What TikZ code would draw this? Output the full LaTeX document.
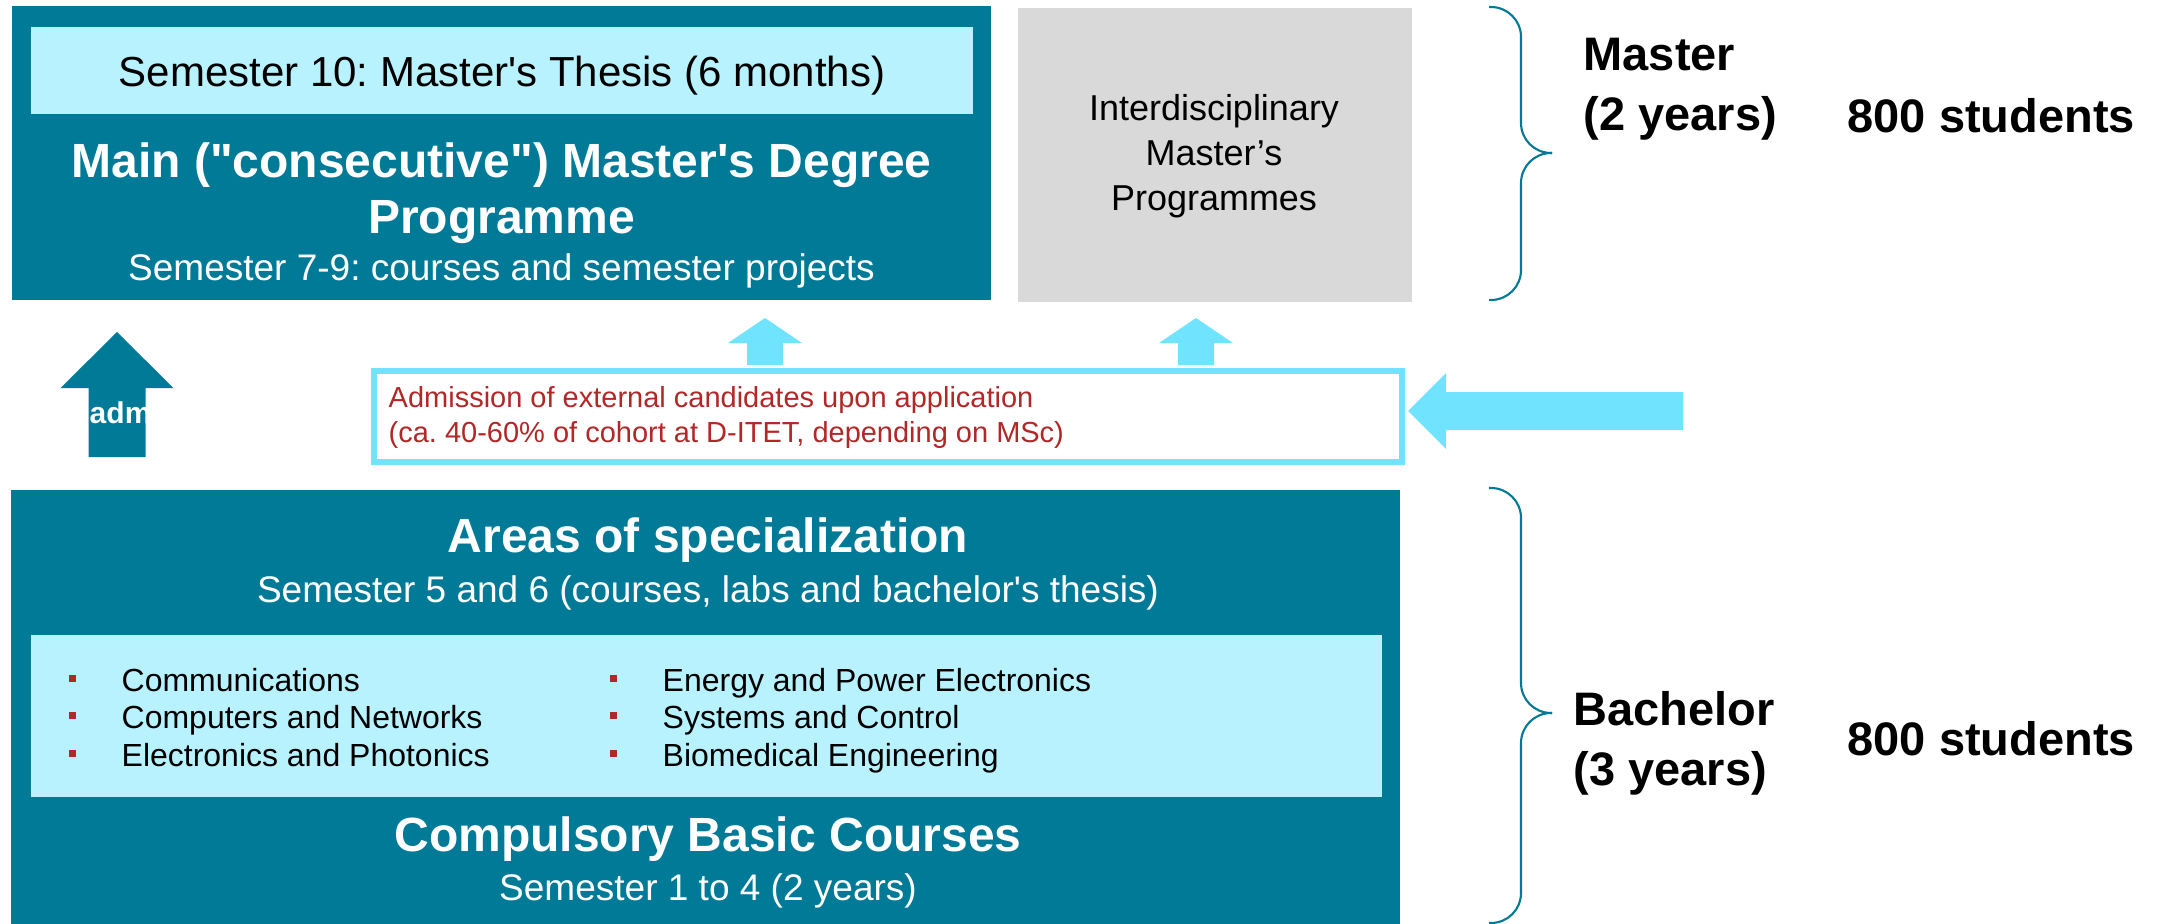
\documentclass[tikz,border=0pt]{standalone}
\usepackage{fontspec}
\setmainfont{Liberation Sans}
\usepackage{tikz}
\frenchspacing

\definecolor{ethteal}{RGB}{0,122,150}
\definecolor{lightcyan}{RGB}{183,242,254}
\definecolor{arrowcyan}{RGB}{112,227,255}
\definecolor{boxgrey}{RGB}{217,217,217}
\definecolor{darkred}{RGB}{178,40,40}

\tikzset{
    tealbox/.style={fill=ethteal, inner sep=0pt, outer sep=0pt, anchor=north west},
    lightbox/.style={fill=lightcyan, inner sep=0pt, outer sep=0pt, anchor=north west},
    bigtitle/.style={text=white, align=center, font=\fontsize{13.66}{15.93}\selectfont\bfseries},
    subtitle/.style={text=white, font=\fontsize{10.53}{12.6}\selectfont},
    spec/.style={anchor=base west, inner sep=0pt, font=\fontsize{9.1}{11}\selectfont},
    bulletsq/.style={fill=darkred, minimum size=0.07cm, inner sep=0pt},
    degree/.style={anchor=west, align=left, inner sep=0pt, font=\fontsize{13.37}{17.07}\selectfont\bfseries},
    bracepath/.style={draw=ethteal, line width=0.6pt, rounded corners=0.3cm},
}

\begin{document}
\begin{tikzpicture}
    \useasboundingbox (0,0) rectangle (21.65,-9.24);

    % master part
    \node[tealbox, minimum width=9.79cm, minimum height=2.94cm] (master) at (0.12,-0.06) {};
    \node[lightbox, minimum width=9.42cm, minimum height=0.87cm] (thesis) at (0.31,-0.27) {};
    \node[font=\fontsize{11.95}{14}\selectfont] (thesistext) at (5.02,-0.76) {Semester 10: Master\textquotesingle s Thesis (6 months)};
    \node[bigtitle] (maintitle) at (5.015,-1.93) {Main (\textquotedbl consecutive\textquotedbl) Master\textquotesingle s Degree\\Programme};
    \node[subtitle] (mainsub) at (5.015,-2.71) {Semester 7-9: courses and semester projects};

    \node[fill=boxgrey, minimum width=3.94cm, minimum height=2.94cm, anchor=north west, inner sep=0pt] (inter) at (10.17,-0.07) {};
    \node[align=center, font=\fontsize{10.24}{12.8}\selectfont] (intertext) at (12.14,-1.56) {Interdisciplinary\\Master’s\\Programmes};

    % admission
    \node[draw=arrowcyan, line width=0.06cm, fill=white, minimum width=10.28cm, minimum height=0.91cm, anchor=north west, inner sep=0pt] (adm) at (3.71,-3.68) {};
    \node[anchor=west, align=left, inner sep=0pt, text=darkred, font=\fontsize{8.25}{9.96}\selectfont] (admtext) at (3.88,-4.175) {Admission of external candidates upon application\\(ca. 40-60\% of cohort at D-ITET, depending on MSc)};

    \coordinate (up1) at (7.65,-3.65);
    \coordinate (up2) at (11.96,-3.65);
    \coordinate (extin) at (14.08,-4.11);
    \fill[arrowcyan, shift={(up1)}] (-0.18,0) -- (-0.18,0.22) -- (-0.37,0.22) -- (0,0.47) -- (0.37,0.22) -- (0.18,0.22) -- (0.18,0) -- cycle;
    \fill[arrowcyan, shift={(up2)}] (-0.18,0) -- (-0.18,0.22) -- (-0.37,0.22) -- (0,0.47) -- (0.37,0.22) -- (0.18,0.22) -- (0.18,0) -- cycle;
    \fill[arrowcyan, shift={(extin)}] (0,0) -- (0.38,0.38) -- (0.38,0.19) -- (2.75,0.19) -- (2.75,-0.19) -- (0.38,-0.19) -- (0.38,-0.38) -- cycle;

    % direct admission
    \coordinate (directtip) at (1.17,-3.32);
    \fill[ethteal, shift={(directtip)}] (0,0) -- (0.565,-0.56) -- (0.285,-0.56) -- (0.285,-1.25) -- (-0.285,-1.25) -- (-0.285,-0.56) -- (-0.565,-0.56) -- cycle;
    \node[anchor=west, inner sep=0pt, text=white, font=\fontsize{8.54}{10}\selectfont\bfseries] (direct) at (-0.01,-4.13) {direct admission};

    % bachelor part
    \node[tealbox, minimum width=13.89cm, minimum height=4.34cm] (bachelor) at (0.11,-4.90) {};
    \node[lightbox, minimum width=13.51cm, minimum height=1.62cm] (areas) at (0.31,-6.35) {};
    \node[bigtitle] (spectitle) at (7.08,-5.40) {Areas of specialization};
    \node[subtitle] (specsub) at (7.08,-5.93) {Semester 5 and 6 (courses, labs and bachelor\textquotesingle s thesis)};
    \node[bigtitle] (basictitle) at (7.08,-8.39) {Compulsory Basic Courses};
    \node[subtitle] (basicsub) at (7.08,-8.91) {Semester 1 to 4 (2 years)};

    \node[bulletsq] (b1) at (0.72,-6.78) {};
    \node[bulletsq] (b2) at (0.72,-7.155) {};
    \node[bulletsq] (b3) at (0.72,-7.53) {};
    \node[bulletsq] (b4) at (6.13,-6.78) {};
    \node[bulletsq] (b5) at (6.13,-7.155) {};
    \node[bulletsq] (b6) at (6.13,-7.53) {};
    \node[spec] (comm) at (1.21,-6.91) {Communications};
    \node[spec] (comp) at (1.21,-7.285) {Computers and Networks};
    \node[spec] (elec) at (1.21,-7.66) {Electronics and Photonics};
    \node[spec] (power) at (6.62,-6.91) {Energy and Power Electronics};
    \node[spec] (sysctl) at (6.62,-7.285) {Systems and Control};
    \node[spec] (biomed) at (6.62,-7.66) {Biomedical Engineering};

    % braces and labels
    \draw[bracepath] (14.89,-0.07) -| (15.21,-1.53) -- (15.52,-1.53);
    \draw[bracepath] (15.52,-1.53) -| (15.21,-3.00) -- (14.89,-3.00);
    \draw[bracepath] (14.89,-4.88) -| (15.21,-7.13) -- (15.52,-7.13);
    \draw[bracepath] (15.52,-7.13) -| (15.21,-9.23) -- (14.89,-9.23);

    \node[degree] (mlabel) at (15.83,-0.89) {Master\\(2 years)};
    \node[degree] (mcount) at (18.47,-1.16) {800 students};
    \node[degree] (blabel) at (15.73,-7.43) {Bachelor\\(3 years)};
    \node[degree] (bcount) at (18.47,-7.39) {800 students};

\end{tikzpicture}
\end{document}
